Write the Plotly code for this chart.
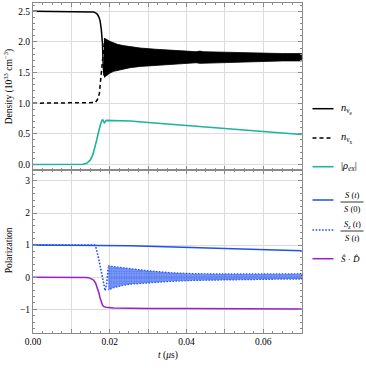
import plotly.graph_objects as go

# ---------------- data ----------------
# top panel: densities (10^33 cm^-3) vs t (microseconds)
t_ne = [0.0, 0.0150, 0.0158, 0.0164, 0.0168, 0.0172, 0.0175, 0.0178, 0.0181, 0.0183, 0.0185]
ne = [2.50, 2.50, 2.49, 2.47, 2.45, 2.40, 2.34, 2.20, 1.98, 1.62, 1.45]

t_nx = [0.0, 0.0155, 0.0162, 0.0168, 0.0173, 0.0177, 0.0181, 0.0184, 0.0187]
nx = [1.00, 1.00, 1.01, 1.06, 1.16, 1.43, 1.70, 1.98, 2.06]

# envelope of the fast oscillations of n_nue / n_nux
t_osc = [0.0185, 0.0190, 0.0195, 0.0200, 0.0210, 0.0220, 0.0235, 0.0253, 0.0280, 0.0320,
         0.0360, 0.0400, 0.0425, 0.0435, 0.0445, 0.0500, 0.0550, 0.0600, 0.0650, 0.0700]
osc_hi = [2.06, 2.05, 2.03, 2.01, 1.98, 1.96, 1.94, 1.92, 1.90, 1.88,
          1.86, 1.85, 1.84, 1.85, 1.84, 1.83, 1.82, 1.82, 1.81, 1.81]
osc_lo = [1.42, 1.44, 1.47, 1.49, 1.52, 1.54, 1.56, 1.58, 1.60, 1.62,
          1.64, 1.65, 1.66, 1.65, 1.66, 1.67, 1.68, 1.68, 1.69, 1.69]

t_rho = [0.0, 0.0120, 0.0130, 0.0140, 0.0149, 0.0156, 0.0162, 0.0166, 0.0170, 0.01735,
         0.01765, 0.0181, 0.0186, 0.0191, 0.0197, 0.0210, 0.0253, 0.0300, 0.0350, 0.0427,
         0.0500, 0.0600, 0.0700]
rho = [0.0, 0.0, 0.005, 0.02, 0.07, 0.16, 0.29, 0.40, 0.51, 0.60,
       0.67, 0.735, 0.68, 0.72, 0.72, 0.72, 0.71, 0.685, 0.66, 0.63,
       0.595, 0.545, 0.49]

# bottom panel: polarization
t_s = [0.0, 0.0180, 0.0200, 0.0253, 0.0300, 0.0400, 0.0500, 0.0600, 0.0700]
s_ratio = [1.00, 1.00, 0.995, 0.98, 0.965, 0.93, 0.89, 0.855, 0.82]

t_sz = [0.0, 0.0160, 0.0163, 0.0167, 0.0170, 0.0175, 0.0179, 0.0183, 0.0188, 0.0192, 0.0196]
sz = [1.00, 1.00, 0.97, 0.82, 0.64, 0.35, 0.12, -0.15, -0.42, -0.20, 0.30]

t_szb = [0.0196, 0.0210, 0.0230, 0.0253, 0.0300, 0.0360, 0.0420, 0.0500, 0.0600, 0.0660, 0.0700]
sz_hi = [0.35, 0.33, 0.30, 0.26, 0.20, 0.14, 0.11, 0.10, 0.09, 0.10, 0.11]
sz_lo = [-0.40, -0.33, -0.27, -0.22, -0.17, -0.13, -0.10, -0.08, -0.07, -0.06, -0.06]

t_sd = [0.0, 0.0135, 0.0140, 0.0148, 0.0157, 0.0163, 0.0168, 0.0172, 0.0175, 0.0178,
        0.0181, 0.0185, 0.0190, 0.0210, 0.0250, 0.0300, 0.0400, 0.0500, 0.0700]
sd = [0.0, 0.0, -0.01, -0.03, -0.08, -0.18, -0.34, -0.50, -0.66, -0.78,
      -0.87, -0.92, -0.94, -0.96, -0.97, -0.975, -0.98, -0.985, -0.99]

x_ticks = [0.0, 0.01, 0.02, 0.03, 0.04, 0.05, 0.06, 0.07]
x_ticktext = ["0.00", "", "0.02", "", "0.04", "", "0.06", ""]
top_ticks = [0.0, 0.5, 1.0, 1.5, 2.0, 2.5]
top_ticktext = ["0.0", "0.5", "1.0", "1.5", "2.0", "2.5"]
bot_ticks = [-1, 0, 1, 2, 3]
bot_ticktext = ["\u22121", "0", "1", "2", "3"]

# ---------------- styles ----------------
BLACK = "#000000"
TEAL = "#1db39d"
BLUE = "#1f4ff2"
PURPLE = "#9b1fc6"
FONT = "Liberation Serif"
GRID = "#dcdcdc"
FRAME = "#8a8a8a"

fig = go.Figure()

# ----- top panel -----
band_x = t_osc + t_osc[::-1]
band_y = osc_hi + osc_lo[::-1]
fig.add_trace(go.Scatter(x=band_x, y=band_y, xaxis="x2", yaxis="y2", mode="lines",
                         fill="toself", fillcolor=BLACK, line=dict(color=BLACK, width=0.8),
                         showlegend=False, hoverinfo="skip"))
fig.add_trace(go.Scatter(x=t_ne, y=ne, xaxis="x2", yaxis="y2", mode="lines",
                         line=dict(color=BLACK, width=1.5), showlegend=False))
fig.add_trace(go.Scatter(x=t_nx, y=nx, xaxis="x2", yaxis="y2", mode="lines",
                         line=dict(color=BLACK, width=1.5, dash="4px,3px"), showlegend=False))
fig.add_trace(go.Scatter(x=t_rho, y=rho, xaxis="x2", yaxis="y2", mode="lines",
                         line=dict(color=TEAL, width=1.6), showlegend=False))

# ----- bottom panel -----
sb_x = t_szb + t_szb[::-1]
sb_y = sz_hi + sz_lo[::-1]
fig.add_trace(go.Scatter(x=sb_x, y=sb_y, xaxis="x", yaxis="y", mode="lines",
                         fill="toself", fillcolor="rgba(31,79,242,0.55)",
                         fillpattern=dict(shape=".", fgcolor=BLUE, bgcolor="rgba(31,79,242,0.5)",
                                          size=2.5, solidity=0.6),
                         line=dict(color=BLUE, width=1.2, dash="1.5px,1.5px"),
                         showlegend=False, hoverinfo="skip"))
fig.add_trace(go.Scatter(x=t_sz, y=sz, xaxis="x", yaxis="y", mode="lines",
                         line=dict(color=BLUE, width=1.6, dash="1.6px,1.6px"), showlegend=False))
fig.add_trace(go.Scatter(x=t_s, y=s_ratio, xaxis="x", yaxis="y", mode="lines",
                         line=dict(color=BLUE, width=1.5), showlegend=False))
fig.add_trace(go.Scatter(x=t_sd, y=sd, xaxis="x", yaxis="y", mode="lines",
                         line=dict(color=PURPLE, width=1.5), showlegend=False))

axis_common = dict(
    showline=True, linecolor=FRAME, linewidth=1, mirror="allticks",
    ticks="inside", ticklen=4, tickcolor=FRAME, tickwidth=1,
    showgrid=True, gridcolor=GRID, gridwidth=1, zeroline=False,
    tickfont=dict(family=FONT, size=9.5, color="#000"),
)

SPLIT = 0.4939
fig.update_layout(
    width=366, height=368,
    margin=dict(l=33, r=64, t=3, b=35),
    paper_bgcolor="white", plot_bgcolor="white",
    showlegend=False,
    xaxis=dict(axis_common, domain=[0, 1], anchor="y", range=[0, 0.0701],
               tickmode="array", tickvals=x_ticks, ticktext=x_ticktext,
               minor=dict(ticks="inside", ticklen=2, tickcolor=FRAME, dtick=0.0025, showgrid=False)),
    xaxis2=dict(axis_common, domain=[0, 1], anchor="y2", matches="x", range=[0, 0.0701],
                tickmode="array", tickvals=x_ticks, showticklabels=False,
                minor=dict(ticks="inside", ticklen=2, tickcolor=FRAME, dtick=0.0025, showgrid=False)),
    yaxis=dict(axis_common, domain=[0, SPLIT], anchor="x", range=[-1.74, 3.34],
               tickmode="array", tickvals=bot_ticks, ticktext=bot_ticktext,
               minor=dict(ticks="inside", ticklen=2, tickcolor=FRAME, dtick=0.2, showgrid=False)),
    yaxis2=dict(axis_common, domain=[SPLIT, 1], anchor="x2", range=[-0.09, 2.635],
                tickmode="array", tickvals=top_ticks, ticktext=top_ticktext,
                minor=dict(ticks="inside", ticklen=2, tickcolor=FRAME, dtick=0.1, showgrid=False)),
)

# ----- axis titles -----
ann = []
ann.append(dict(text="Density (10<sup>33</sup> cm<sup>\u22123</sup>)", textangle=-90,
                xref="paper", yref="paper", x=-0.088, y=(333 - 87) / 330,
                xanchor="center", yanchor="middle", showarrow=False,
                font=dict(family=FONT, size=9.5, color="#000")))
ann.append(dict(text="Polarization", textangle=-90,
                xref="paper", yref="paper", x=-0.088, y=(333 - 250) / 330,
                xanchor="center", yanchor="middle", showarrow=False,
                font=dict(family=FONT, size=9.5, color="#000")))
ann.append(dict(text="<i>t</i> (<i>\u03bc</i>s)",
                xref="paper", yref="paper", x=0.5, y=(333 - 355) / 330,
                xanchor="center", yanchor="middle", showarrow=False,
                font=dict(family=FONT, size=9.5, color="#000")))

# ----- custom legend -----
def px_x(x):
    return (x - 33) / 269.0

def px_y(y):
    return (333 - y) / 330.0

shapes = []
LX0, LX1, TX = px_x(312.5), px_x(333.5), px_x(339)

legend_top = [
    (108.7, BLACK, "solid", 1.5, "<i>n</i><sub>\u03bd<sub>e</sub></sub>"),
    (138.0, BLACK, "4px,3px", 1.5, "<i>n</i><sub>\u03bd<sub>x</sub></sub>"),
    (166.7, TEAL, "solid", 1.6, "|<i>\u03c1</i><sub><i>ex</i></sub>|"),
]
for y, col, dash, w, label in legend_top:
    shapes.append(dict(type="line", xref="paper", yref="paper", x0=LX0, x1=LX1,
                       y0=px_y(y), y1=px_y(y), line=dict(color=col, width=w, dash=dash)))
    ann.append(dict(text=label, xref="paper", yref="paper", x=TX, y=px_y(y),
                    xanchor="left", yanchor="middle", showarrow=False,
                    font=dict(family=FONT, size=10.5, color="#000")))

legend_bot = [
    (200.0, BLUE, "solid", 1.5),
    (230.0, BLUE, "1.6px,1.6px", 1.6),
    (258.7, PURPLE, "solid", 1.5),
]
for y, col, dash, w in legend_bot:
    shapes.append(dict(type="line", xref="paper", yref="paper", x0=LX0, x1=LX1,
                       y0=px_y(y), y1=px_y(y), line=dict(color=col, width=w, dash=dash)))

FX = px_x(352)
fracs = [
    (195.5, 202.0, 208.5, "<i>S</i> (<i>t</i>)", "<i>S</i> (0)"),
    (224.0, 231.0, 238.0, "<i>S</i><sub><i>z</i></sub> (<i>t</i>)", "<i>S</i> (<i>t</i>)"),
]
for yn, yb, yd, num, den in fracs:
    ann.append(dict(text=num, xref="paper", yref="paper", x=FX, y=px_y(yn),
                    xanchor="center", yanchor="middle", showarrow=False,
                    font=dict(family=FONT, size=8.5, color="#000")))
    ann.append(dict(text=den, xref="paper", yref="paper", x=FX, y=px_y(yd),
                    xanchor="center", yanchor="middle", showarrow=False,
                    font=dict(family=FONT, size=8.5, color="#000")))
    shapes.append(dict(type="line", xref="paper", yref="paper", x0=px_x(340.5), x1=px_x(363.5),
                       y0=px_y(yb), y1=px_y(yb), line=dict(color="#000", width=0.8)))

ann.append(dict(text="<i>S\u0302</i> \u00b7 <i>D\u0302</i>", xref="paper", yref="paper",
                x=TX, y=px_y(258.7), xanchor="left", yanchor="middle", showarrow=False,
                font=dict(family=FONT, size=9, color="#000")))

fig.update_layout(annotations=ann, shapes=shapes)
fig.write_html("out.html", config={"displayModeBar": False},
               post_script="document.body.style.margin='0';document.body.style.padding='0';")
